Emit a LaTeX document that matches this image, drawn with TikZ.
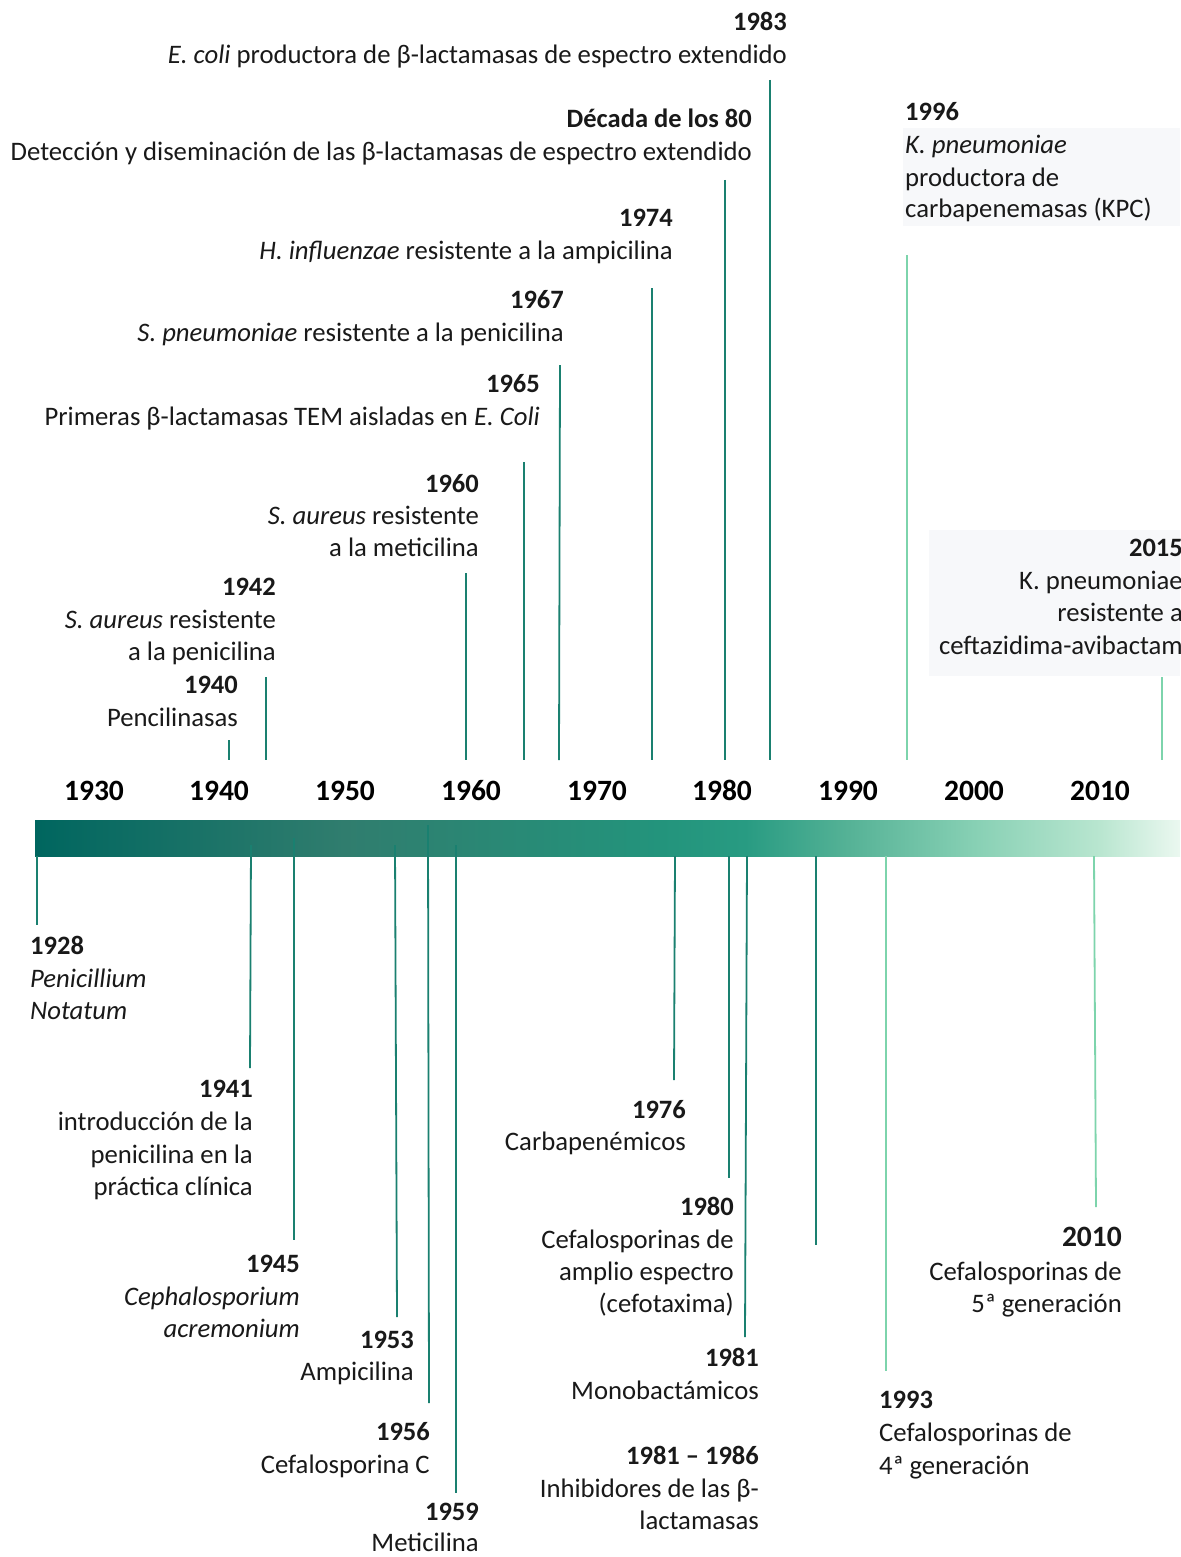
\documentclass[tikz,border=0pt]{standalone}
\usepackage{fontspec}
\setmainfont{Carlito}
\definecolor{tealline}{RGB}{26,128,112}
\definecolor{mintline}{RGB}{125,212,172}
\definecolor{boxbg}{RGB}{247,248,250}
\definecolor{txt}{RGB}{25,25,25}
\definecolor{sA}{RGB}{0,102,95}
\definecolor{sB}{RGB}{48,125,110}
\definecolor{sC}{RGB}{35,148,124}
\definecolor{sD}{RGB}{40,155,130}
\definecolor{sE}{RGB}{85,178,150}
\definecolor{sF}{RGB}{135,208,180}
\definecolor{sG}{RGB}{185,230,208}
\definecolor{sH}{RGB}{235,248,240}
% stops mapped into the 25bp..75bp band that TikZ stretches over the path
\pgfdeclarehorizontalshading{barshade}{100bp}{color(0bp)=(sA); color(25bp)=(sA); color(38.5bp)=(sB); color(52.3bp)=(sC); color(56bp)=(sD); color(60.5bp)=(sE); color(66bp)=(sF); color(71.5bp)=(sG); color(75bp)=(sH); color(100bp)=(sH)}
\begin{document}
\begin{tikzpicture}[x=1pt,y=-1pt,
  yr/.style={font=\bfseries\fontsize{26.5}{30}\selectfont, inner sep=0pt, text=txt},
  tx/.style={font=\fontsize{26.7}{30}\selectfont, inner sep=0pt, text=txt},
  ax/.style={font=\bfseries\fontsize{29.5}{30}\selectfont, inner sep=0pt, anchor=base, text=black},
  dk/.style={draw=tealline, line width=1.8pt},
  mt/.style={draw=mintline, line width=1.8pt},
  bx/.style={fill=boxbg, draw=none}]
\useasboundingbox (0,0) rectangle (1180,1557);
\fill[white] (0,0) rectangle (1180,1557);
% background boxes
\path[bx] (903,128) rectangle (1180,226);
\path[bx] (929,530) rectangle (1180,676);
% bar
\shade[shading=barshade] (35,820) rectangle (1180,856);
% axis labels
\node[ax] (a1930) at (94,800) {1930};
\node[ax] (a1940) at (219,800) {1940};
\node[ax] (a1950) at (345,800) {1950};
\node[ax] (a1960) at (471,800) {1960};
\node[ax] (a1970) at (597,800) {1970};
\node[ax] (a1980) at (722,800) {1980};
\node[ax] (a1990) at (848,800) {1990};
\node[ax] (a2000) at (974,800) {2000};
\node[ax] (a2010) at (1100,800) {2010};
% top ticks
\draw[dk] (229,740) -- (229,760);
\draw[dk] (266,677) -- (266,760);
\draw[dk] (466,573) -- (466,760);
\draw[dk] (524,462) -- (524,760);
\draw[dk] (560,365) -- (559,760);
\draw[dk] (652,288) -- (652,760);
\draw[dk] (725,180) -- (725,760);
\draw[dk] (770,80) -- (770,760);
\draw[mt] (907,255) -- (907,760);
\draw[mt] (1162,677) -- (1162,760);
% bottom ticks
\draw[dk] (37,856) -- (37,925);
\draw[dk] (251,845) -- (250,1068);
\draw[dk] (294,838) -- (294,1240);
\draw[dk] (395,845) -- (397,1317);
\draw[dk] (428,825) -- (429,1403);
\draw[dk] (456,845) -- (456,1493);
\draw[dk] (675,856) -- (674,1080);
\draw[dk] (729,856) -- (729,1178);
\draw[dk] (747,856) -- (745,1337);
\draw[dk] (816,856) -- (816,1245);
\draw[mt] (886,856) -- (886,1371);
\draw[mt] (1094,856) -- (1096,1207);
% top labels
\node[yr, anchor=base east] (y1983) at (787,31) {1983};
\node[tx, anchor=base east] (t1983) at (787,64) {\textit{E. coli} productora de β-lactamasas de espectro extendido};
\node[yr, anchor=base east] (y80) at (752,128) {Década de los 80};
\node[tx, anchor=base east] (t80) at (752,161) {Detección y diseminación de las β-lactamasas de espectro extendido};
\node[yr, anchor=base east] (y1974) at (673,226) {1974};
\node[tx, anchor=base east] (t1974) at (673,259) {\textit{H. influenzae} resistente a la ampicilina};
\node[yr, anchor=base east] (y1967) at (564,308) {1967};
\node[tx, anchor=base east] (t1967) at (564,341) {\textit{S. pneumoniae} resistente a la penicilina};
\node[yr, anchor=base east] (y1965) at (540,392) {1965};
\node[tx, anchor=base east] (t1965) at (540,425) {Primeras β-lactamasas TEM aisladas en \textit{E. Coli}};
\node[yr, anchor=base east] (y1960) at (479,492) {1960};
\node[tx, anchor=base east] (t1960a) at (479,524) {\textit{S. aureus} resistente};
\node[tx, anchor=base east] (t1960b) at (479,556) {a la meticilina};
\node[yr, anchor=base east] (y1942) at (276,595) {1942};
\node[tx, anchor=base east] (t1942a) at (276,628) {\textit{S. aureus} resistente};
\node[tx, anchor=base east] (t1942b) at (276,660) {a la penicilina};
\node[yr, anchor=base east] (y1940) at (238,693) {1940};
\node[tx, anchor=base east] (t1940) at (238,726) {Pencilinasas};
\node[yr, anchor=base west] (y1996) at (905,121) {1996};
\node[tx, anchor=base west] (t1996a) at (905,154) {\textit{K. pneumoniae}};
\node[tx, anchor=base west] (t1996b) at (905,186) {productora de};
\node[tx, anchor=base west] (t1996c) at (905,218) {carbapenemasas (KPC)};
\node[yr, anchor=base east] (y2015) at (1183,556) {2015};
\node[tx, anchor=base east] (t2015a) at (1183,589) {K. pneumoniae};
\node[tx, anchor=base east] (t2015b) at (1183,621) {resistente a};
\node[tx, anchor=base east] (t2015c) at (1183,654) {ceftazidima-avibactam};
% bottom labels
\node[yr, anchor=base west] (y1928) at (30,954) {1928};
\node[tx, anchor=base west] (t1928a) at (30,987) {\textit{Penicillium}};
\node[tx, anchor=base west] (t1928b) at (30,1019) {\textit{Notatum}};
\node[yr, anchor=base east] (y1941) at (253,1097) {1941};
\node[tx, anchor=base east] (t1941a) at (253,1130) {introducción de la};
\node[tx, anchor=base east] (t1941b) at (253,1163) {penicilina en la};
\node[tx, anchor=base east] (t1941c) at (253,1195) {práctica clínica};
\node[yr, anchor=base east] (y1945) at (300,1272) {1945};
\node[tx, anchor=base east] (t1945a) at (300,1305) {\textit{Cephalosporium}};
\node[tx, anchor=base east] (t1945b) at (300,1337) {\textit{acremonium}};
\node[yr, anchor=base east] (y1953) at (414,1348) {1953};
\node[tx, anchor=base east] (t1953) at (414,1380) {Ampicilina};
\node[yr, anchor=base east] (y1956) at (430,1440) {1956};
\node[tx, anchor=base east] (t1956) at (430,1473) {Cefalosporina C};
\node[yr, anchor=base east] (y1959) at (479,1520) {1959};
\node[tx, anchor=base east] (t1959) at (479,1551) {Meticilina};
\node[yr, anchor=base east] (y1976) at (686,1118) {1976};
\node[tx, anchor=base east] (t1976) at (686,1150) {Carbapenémicos};
\node[yr, anchor=base east] (y1980) at (734,1215) {1980};
\node[tx, anchor=base east] (t1980a) at (734,1248) {Cefalosporinas de};
\node[tx, anchor=base east] (t1980b) at (734,1280) {amplio espectro};
\node[tx, anchor=base east] (t1980c) at (734,1312) {(cefotaxima)};
\node[yr, anchor=base east] (y1981) at (759,1366) {1981};
\node[tx, anchor=base east] (t1981) at (759,1399) {Monobactámicos};
\node[yr, anchor=base east] (y8186) at (759,1464) {1981 – 1986};
\node[tx, anchor=base east] (t8186a) at (759,1497) {Inhibidores de las β-};
\node[tx, anchor=base east] (t8186b) at (759,1529) {lactamasas};
\node[yr, anchor=base west] (y1993) at (879,1408) {1993};
\node[tx, anchor=base west] (t1993a) at (879,1441) {Cefalosporinas de};
\node[tx, anchor=base west] (t1993b) at (879,1474) {4ª generación};
\node[yr, anchor=base east, font=\bfseries\fontsize{29.5}{30}\selectfont] (y2010) at (1122,1246) {2010};
\node[tx, anchor=base east] (t2010a) at (1122,1280) {Cefalosporinas de};
\node[tx, anchor=base east] (t2010b) at (1122,1312) {5ª generación};
\end{tikzpicture}
\end{document}
